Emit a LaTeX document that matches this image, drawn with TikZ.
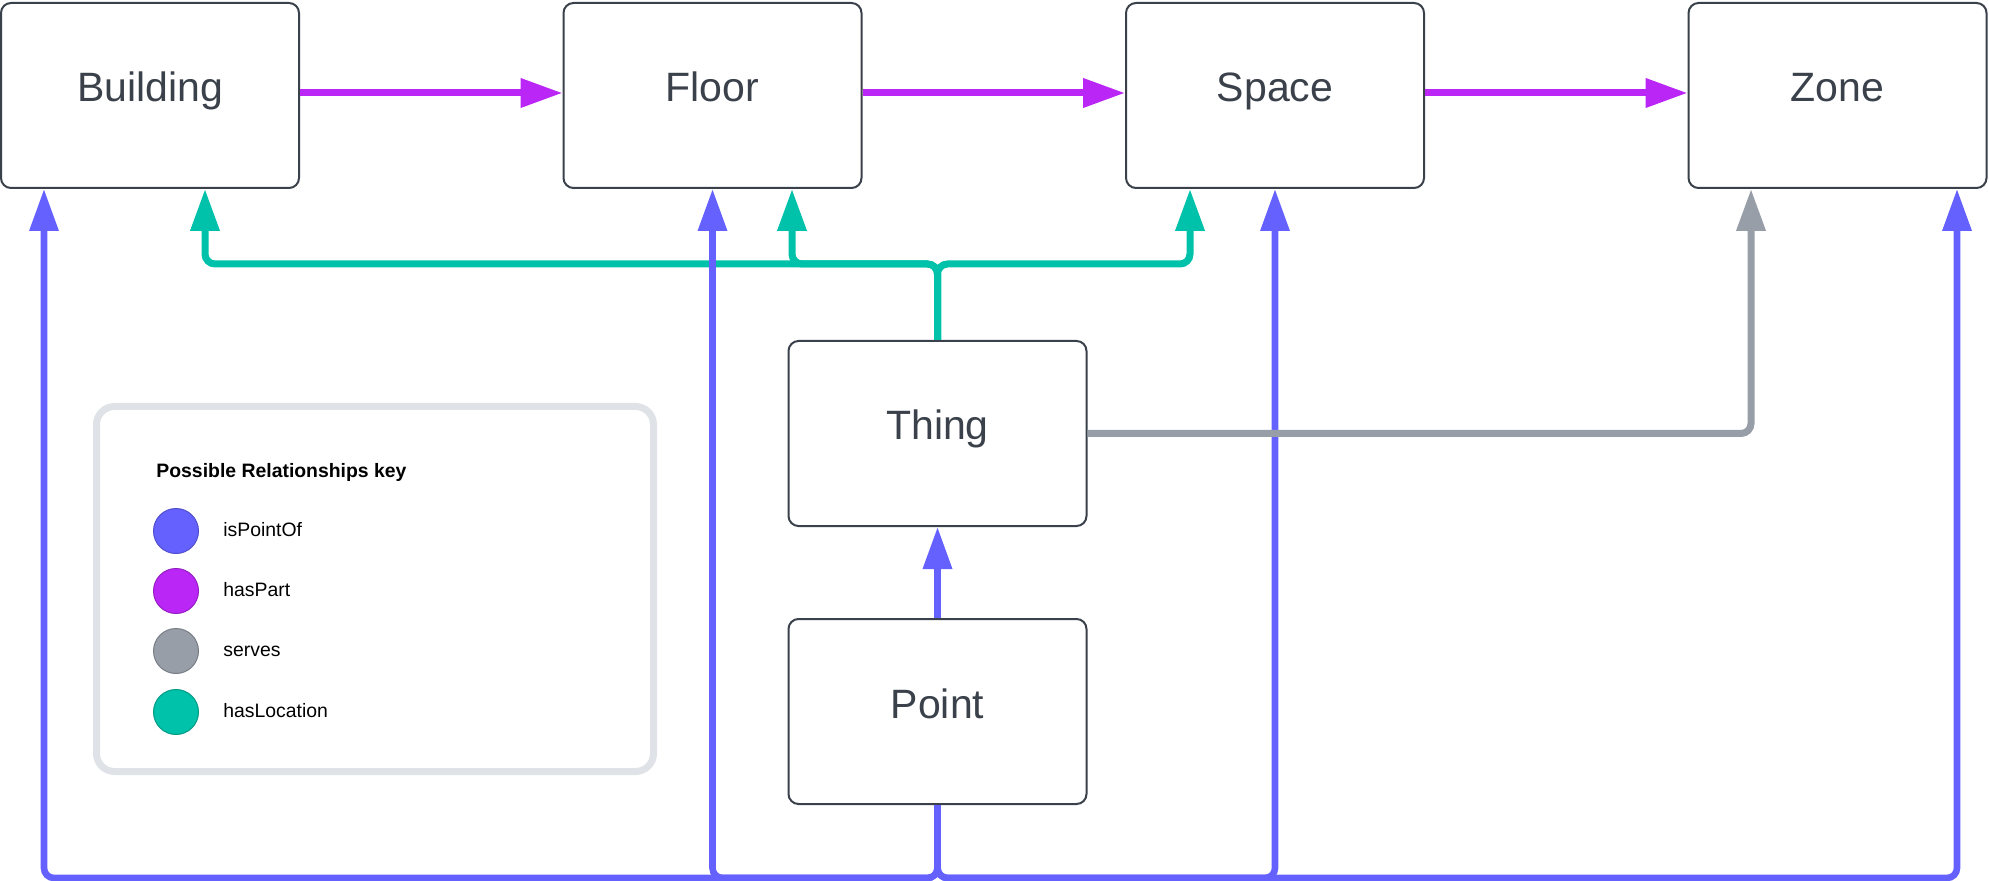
\documentclass[tikz,border=0pt]{standalone}
\usepackage{fontspec}
\setmainfont{Liberation Sans}
\usetikzlibrary{arrows.meta}
\definecolor{cblue}{HTML}{6461FF}
\definecolor{cmag}{HTML}{B926F5}
\definecolor{cgray}{HTML}{979EA8}
\definecolor{cgreen}{HTML}{00C1A9}
\definecolor{cborder}{HTML}{3A414A}
\definecolor{clegend}{HTML}{DFE3E8}
\begin{document}
\begin{tikzpicture}[x=0.5pt,y=-0.5pt,
  box/.style={draw=cborder, line width=1pt, rounded corners=5pt, fill=white,
    minimum width=149pt, minimum height=92.5pt, inner sep=0pt,
    text height=6.5pt, text depth=0pt, font=\fontsize{20.5}{24}\selectfont, text=cborder},
  conn/.style={line width=3.5pt, rounded corners=5pt, -{Triangle[length=21pt,width=14pt]}},
  isp/.style={conn, draw=cblue, line width=3.3pt},
  hp/.style={conn, draw=cmag},
  srv/.style={conn, draw=cgray},
  hl/.style={conn, draw=cgreen},
  keydot/.style={circle, line width=0.5pt, minimum size=22.5pt, inner sep=0pt},
  keytext/.style={anchor=base west, font=\fontsize{9.7}{12}\selectfont, text=black, inner sep=0pt},
]
\useasboundingbox (0,0) rectangle (1989,881);

% boxes
\node[box] (Building) at (150,95.5) {Building};
\node[box] (Floor) at (712.5,95.5) {Floor};
\node[box] (Space) at (1275,95.5) {Space};
\node[box] (Zone) at (1837.5,95.5) {Zone};
\node[box] (Thing) at (937.5,433.5) {Thing};
\node[box] (Point) at (937.5,711.5) {Point};

% legend
\node[draw=clegend, line width=3.5pt, rounded corners=9pt, minimum width=278.5pt,
      minimum height=182.5pt, inner sep=0pt] (legend) at (375,589) {};
\node[anchor=base west, inner sep=0pt, font=\bfseries\fontsize{9.7}{12}\selectfont] (ltitle) at (156,477) {Possible Relationships key};
\node[keydot, fill=cblue, draw=cblue!80!black] (kisp) at (176,531) {};
\node[keytext] (tisp) at (223,536) {isPointOf};
\node[keydot, fill=cmag, draw=cmag!80!black] (khp) at (176,591) {};
\node[keytext] (thp) at (223,596) {hasPart};
\node[keydot, fill=cgray, draw=cgray!80!black] (ksrv) at (176,651) {};
\node[keytext] (tsrv) at (223,656) {serves};
\node[keydot, fill=cgreen, draw=cgreen!80!black] (khl) at (176,712) {};
\node[keytext] (thl) at (223,717) {hasLocation};

% hasLocation
\draw[hl] (Thing.north) -- ++(0,-76) -| ([xshift=27.5pt]Building.south);
\draw[hl] (Thing.north) -- ++(0,-76) -| ([xshift=39.75pt]Floor.south);
\draw[hl] (Thing.north) -- ++(0,-76) -| ([xshift=-42.5pt]Space.south);

% isPointOf
\draw[isp] (Point.south) -- ++(0,73) -| ([xshift=-53pt]Building.south);
\draw[isp] (Point.south) -- ++(0,73) -| (Floor.south);
\draw[isp] (Point.south) -- ++(0,73) -| (Space.south);
\draw[isp] (Point.south) -- ++(0,73) -| ([xshift=59.75pt]Zone.south);
\draw[isp] (Point.north) -- (Thing.south);

% serves
\draw[srv] (Thing.east) -| ([xshift=-43.25pt]Zone.south);

% hasPart
\draw[hp] ([yshift=1.25pt]Building.east) -- ([yshift=1.25pt]Floor.west);
\draw[hp] ([yshift=1.25pt]Floor.east) -- ([yshift=1.25pt]Space.west);
\draw[hp] ([yshift=1.25pt]Space.east) -- ([yshift=1.25pt]Zone.west);
\end{tikzpicture}
\end{document}
